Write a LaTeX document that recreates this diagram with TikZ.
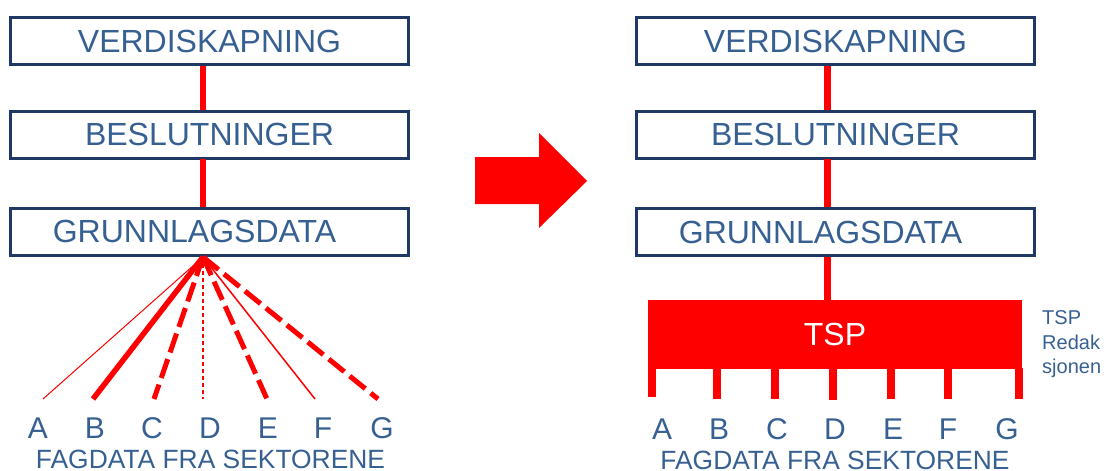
\documentclass[tikz,border=0pt]{standalone}
\usepackage{fontspec}
\setmainfont{Liberation Sans}
\definecolor{navy}{HTML}{1F3864}
\definecolor{txt}{HTML}{376092}
\definecolor{tspred}{HTML}{FF0000}
\begin{document}
\begin{tikzpicture}[x=1pt,y=-1pt,
  box/.style={draw=navy, line width=3pt, fill=white, minimum width=398pt, minimum height=47pt, inner sep=0pt, text=txt, font=\fontsize{32}{38}\selectfont},
  vlink/.style={draw=tspred, line width=6.5pt},
  letter/.style={text=txt, inner sep=0pt, font=\fontsize{30}{36}\selectfont},
  caption/.style={text=txt, inner sep=0pt, font=\fontsize{26.4}{32}\selectfont},
  thinsolid/.style={draw=tspred, line width=1pt},
  thicksolid/.style={draw=tspred, line width=5.5pt},
  thickdash/.style={draw=tspred, line width=5pt, dash pattern=on 20pt off 7pt},
  thindash/.style={draw=tspred, line width=1.4pt, dash pattern=on 4pt off 3pt},
  midsolid/.style={draw=tspred, line width=1.5pt},
  leg/.style={draw=tspred, line width=8pt}
]
\useasboundingbox (0,0) rectangle (1104,471);
\clip (0,0) rectangle (1104,471);

% ---------- left side ----------
\node[box] (lv) at (209.5,41) {VERDISKAPNING};
\node[box] (lb) at (209.5,134.5) {BESLUTNINGER};
\node[box] (lg) at (209.5,231.5) {GRUNNLAGSDATA\hspace*{30pt}};
\coordinate (lv1) at (203,66);
\coordinate (lb0) at (203,110);
\coordinate (lb1) at (203,159);
\coordinate (lg0) at (203,207);
\draw[vlink] (lv1) -- (lb0);
\draw[vlink] (lb1) -- (lg0);

\coordinate (fan) at (203,257);
\coordinate (eA) at (43,399);
\coordinate (eB) at (93,399);
\coordinate (eC) at (154,399);
\coordinate (eD) at (203,399);
\coordinate (eE) at (267,399);
\coordinate (eF) at (315,399);
\coordinate (eG) at (378,399);
\draw[thinsolid] (fan) -- (eA);
\draw[thicksolid] (fan) -- (eB);
\draw[thickdash] (fan) -- (eC);
\draw[thindash] (fan) -- (eD);
\draw[thickdash] (fan) -- (eE);
\draw[midsolid] (fan) -- (eF);
\draw[thickdash] (fan) -- (eG);

\node[letter] (lA) at (38,428) {A};
\node[letter] (lB) at (95,428) {B};
\node[letter] (lC) at (152,428) {C};
\node[letter] (lD) at (210,428) {D};
\node[letter] (lE) at (268,428) {E};
\node[letter] (lF) at (323,428) {F};
\node[letter] (lG) at (382,428) {G};
\node[caption] (lcap) at (210.5,459.5) {FAGDATA FRA SEKTORENE};

% ---------- arrow ----------
\fill[tspred] (475,157) -- (539,157) -- (539,133) -- (587,181) -- (539,228) -- (539,204) -- (475,204) -- cycle;

% ---------- right side ----------
\node[box] (rv) at (835.5,41) {VERDISKAPNING};
\node[box] (rb) at (835.5,134.5) {BESLUTNINGER};
\node[box] (rg) at (835.5,232) {GRUNNLAGSDATA\hspace*{30pt}};
\coordinate (rv1) at (827.5,66);
\coordinate (rb0) at (827.5,110);
\coordinate (rb1) at (827.5,159);
\coordinate (rg0) at (827.5,207);
\coordinate (rg1) at (827.5,257);
\draw[vlink] (rv1) -- (rb0);
\draw[vlink] (rb1) -- (rg0);

\node[fill=tspred, minimum width=374pt, minimum height=69pt, inner sep=0pt, text=white, font=\fontsize{32}{38}\selectfont] (tsp) at (835,334.5) {TSP};
\coordinate (tsptop) at (827.5,301);
\draw[line width=7pt, draw=tspred] (rg1) -- (tsptop);

\foreach \n/\x/\yb in {A/652/397, B/716.5/399, C/774.5/399, D/833/400, E/891/399, F/948/399, G/1018.5/399}{
  \coordinate (t\n) at (\x,368);
  \coordinate (b\n) at (\x,\yb);
  \draw[leg] (t\n) -- (b\n);
}

\node[letter] (rA) at (662,429) {A};
\node[letter] (rB) at (719,429) {B};
\node[letter] (rC) at (777,429) {C};
\node[letter] (rD) at (835,429) {D};
\node[letter] (rE) at (893,429) {E};
\node[letter] (rF) at (948,429) {F};
\node[letter] (rG) at (1007,429) {G};
\node[caption] (rcap) at (835,460) {FAGDATA FRA SEKTORENE};

\node[anchor=north west, align=left, inner sep=0pt, text=txt, font=\fontsize{20}{24.5}\selectfont] (side) at (1042,310.7) {TSP\\Redak\\sjonen};
\end{tikzpicture}
\end{document}
